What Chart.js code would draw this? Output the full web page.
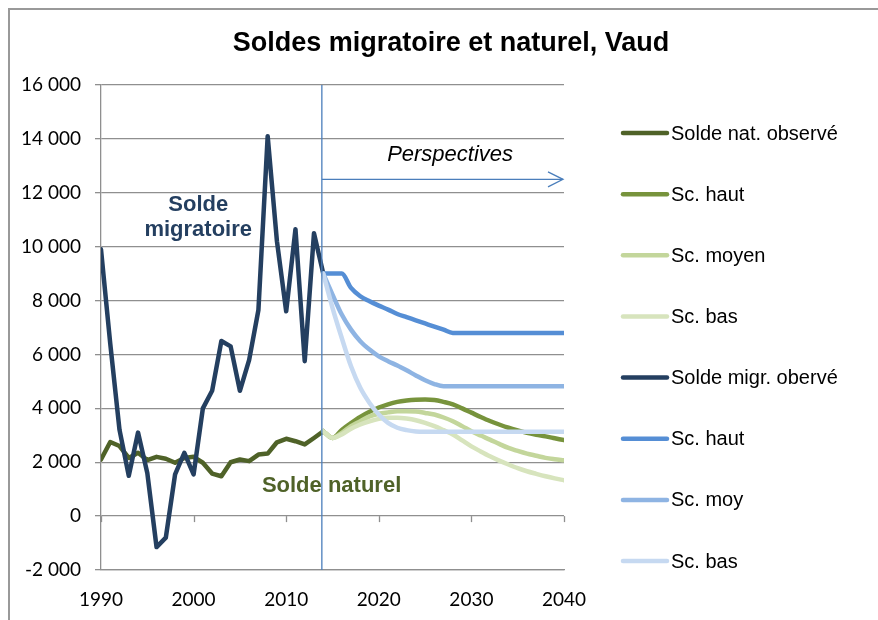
<!DOCTYPE html>
<html><head><meta charset="utf-8">
<script src="https://cdn.jsdelivr.net/npm/chart.js@4/dist/chart.umd.min.js"></script>
<style>
html,body{margin:0;padding:0;background:#fff;}
#wrap{position:relative;width:878px;height:620px;}
canvas{position:absolute;left:0;top:0;}
</style>
</head><body>
<div id="wrap"><canvas id="c" width="878" height="620"></canvas></div>
<script>
// ---- DATA ----
const chartTitle = 'Soldes migratoire et naturel, Vaud';
const observedYears = [1990,1991,1992,1993,1994,1995,1996,1997,1998,1999,2000,2001,2002,2003,2004,2005,2006,2007,2008,2009,2010,2011,2012,2013,2014];
const projectionYears = [2014,2015,2016,2017,2018,2019,2020,2021,2022,2023,2024,2025,2026,2027,2028,2029,2030,2031,2032,2033,2034,2035,2036,2037,2038,2039,2040];

const naturalObserved = [2100,2750,2600,2160,2350,2080,2200,2130,1980,2160,2200,1980,1580,1480,2000,2100,2040,2285,2320,2740,2870,2780,2660,2900,3150];
const naturalHigh   = [3150,2900,3200,3450,3680,3870,4030,4150,4240,4290,4320,4330,4310,4240,4150,4000,3840,3680,3530,3400,3280,3180,3090,3020,2960,2890,2820];
const naturalMedium = [3150,2900,3090,3340,3520,3700,3800,3850,3890,3890,3880,3830,3770,3660,3520,3340,3150,2990,2840,2680,2530,2420,2320,2240,2160,2110,2070];
const naturalLow    = [3150,2900,3030,3240,3400,3520,3610,3650,3650,3620,3560,3460,3340,3190,3030,2810,2590,2400,2220,2060,1915,1780,1665,1570,1480,1400,1330];

const migrationObserved = [9900,6400,3200,1500,3100,1600,-1150,-800,1550,2350,1550,4000,4650,6500,6300,4650,5800,7650,14100,10200,7600,10650,5750,10500,9000];
const migrationHigh   = [9000,9000,9000,8470,8160,7970,7810,7665,7500,7383,7267,7150,7033,6917,6800,6800,6800,6800,6800,6800,6800,6800,6800,6800,6800,6800,6800];
const migrationMedium = [9000,8220,7480,6920,6490,6180,5930,5750,5590,5410,5220,5040,4900,4820,4820,4820,4820,4820,4820,4820,4820,4820,4820,4820,4820,4820,4820];
const migrationLow    = [9000,7730,6610,5560,4760,4200,3770,3460,3280,3190,3140,3130,3130,3130,3130,3130,3130,3130,3130,3130,3130,3130,3130,3130,3130,3130,3130];

const seriesLabels = ['Solde nat. observé','Sc. haut','Sc. moyen','Sc. bas','Solde migr. obervé','Sc. haut','Sc. moy','Sc. bas'];
const xTickValues = [1990,2000,2010,2020,2030,2040];
const yTickValues = [-2000,0,2000,4000,6000,8000,10000,12000,14000,16000];
const annotationTexts = { migration: ['Solde','migratoire'], natural: 'Solde naturel', perspectives: 'Perspectives' };

// ---- helpers ----
const pts = (xs, ys) => xs.map((x, i) => ({x: x, y: ys[i]}));
const fmt = v => (v < 0 ? '-' : '') + Math.abs(v).toString().replace(/\B(?=(\d{3})+(?!\d))/g, ' ');

const colors = ['#4F6228','#77933C','#C3D69B','#D7E4BD','#243F60','#558ED5','#8EB4E3','#C6D9F1'];
const seriesData = [
  pts(observedYears, naturalObserved),
  pts(projectionYears, naturalHigh),
  pts(projectionYears, naturalMedium),
  pts(projectionYears, naturalLow),
  pts(observedYears, migrationObserved),
  pts(projectionYears, migrationHigh),
  pts(projectionYears, migrationMedium),
  pts(projectionYears, migrationLow)
];
const drawOrder = [8,7,6,5,4,3,2,1]; // lower = drawn later (on top)

const datasets = seriesData.map((d, i) => ({
  label: seriesLabels[i],
  data: d,
  borderColor: colors[i],
  backgroundColor: colors[i],
  borderWidth: 4.5,
  pointRadius: 0,
  pointHoverRadius: 0,
  fill: false,
  borderCapStyle: 'round',
  borderJoinStyle: 'round',
  cubicInterpolationMode: (i === 0 || i === 4) ? 'default' : 'monotone',
  tension: 0,
  order: drawOrder[i]
}));

const GRID = '#8f8f8f';
const TXT_FONT = '"Liberation Sans", Arial, sans-serif';

const decor = {
  id: 'decor',
  beforeDraw(chart) {
    const c = chart.ctx;
    c.save();
    c.fillStyle = '#fff';
    c.fillRect(0, 0, chart.width, chart.height);
    c.strokeStyle = '#999';
    c.lineWidth = 2;
    c.beginPath();
    c.moveTo(9, chart.height); c.lineTo(9, 9); c.lineTo(chart.width, 9);
    c.stroke();
    c.restore();
  },
  afterDraw(chart) {
    const c = chart.ctx, xs = chart.scales.x, ys = chart.scales.y, ca = chart.chartArea;
    c.save();
    // x tick marks on the zero line
    c.strokeStyle = GRID; c.lineWidth = 1.3;
    const y0 = ys.getPixelForValue(0);
    xTickValues.forEach(v => {
      const px = Math.round(xs.getPixelForValue(v)) + 0.5;
      c.beginPath(); c.moveTo(px, y0); c.lineTo(px, y0 + 6); c.stroke();
    });
    // title
    c.fillStyle = '#000';
    c.font = 'bold 27px ' + TXT_FONT;
    c.textAlign = 'center'; c.textBaseline = 'middle';
    c.fillText(chartTitle, 451, 44);
    // annotation texts
    c.font = 'bold 22px ' + TXT_FONT;
    c.fillStyle = '#243F60';
    c.fillText(annotationTexts.migration[0], xs.getPixelForValue(2000.5), ys.getPixelForValue(11550));
    c.fillText(annotationTexts.migration[1], xs.getPixelForValue(2000.5), ys.getPixelForValue(10630));
    c.fillStyle = '#4F6228';
    c.fillText(annotationTexts.natural, xs.getPixelForValue(2014.9), ys.getPixelForValue(1135));
    c.fillStyle = '#000';
    c.font = 'italic 22px ' + TXT_FONT;
    c.fillText(annotationTexts.perspectives, xs.getPixelForValue(2027.7), ys.getPixelForValue(13400));
    // forecast start line and arrow
    const vx = xs.getPixelForValue(2013.85);
    c.strokeStyle = '#4A7EBB'; c.lineWidth = 1.3;
    c.beginPath(); c.moveTo(vx, ca.top); c.lineTo(vx, ca.bottom); c.stroke();
    const ay = ys.getPixelForValue(12500), ax2 = ca.right - 1;
    c.beginPath(); c.moveTo(vx, ay); c.lineTo(ax2, ay); c.stroke();
    c.beginPath(); c.moveTo(ax2 - 15, ay - 7.5); c.lineTo(ax2, ay); c.lineTo(ax2 - 15, ay + 7.5); c.stroke();
    // legend
    c.font = '20px ' + TXT_FONT;
    c.textAlign = 'left'; c.textBaseline = 'middle';
    chart.data.datasets.forEach((ds, i) => {
      const ly = 133 + i * 61.15;
      c.strokeStyle = ds.borderColor; c.lineWidth = 4.5; c.lineCap = 'round';
      c.beginPath(); c.moveTo(623, ly); c.lineTo(667, ly); c.stroke();
      c.fillStyle = '#000';
      c.fillText(ds.label, 671, ly + 1);
    });
    c.restore();
  }
};

new Chart(document.getElementById('c'), {
  type: 'line',
  data: { datasets: datasets },
  options: {
    responsive: false,
    animation: false,
    devicePixelRatio: 1,
    layout: { padding: { left: 0, right: 314, top: 85, bottom: 0 } },
    plugins: { legend: { display: false }, title: { display: false }, tooltip: { enabled: false } },
    scales: {
      x: {
        type: 'linear', min: 1990, max: 2040,
        afterBuildTicks: s => { s.ticks = xTickValues.map(v => ({value: v})); },
        afterFit: s => { s.height = 50; },
        grid: { display: false, drawTicks: false },
        border: { display: true, color: GRID, width: 1.3 },
        ticks: { color: '#000', font: { family: 'Lato', size: 19 }, padding: 18, maxRotation: 0, callback: v => String(v) }
      },
      y: {
        type: 'linear', min: -2000, max: 16000,
        afterBuildTicks: s => { s.ticks = yTickValues.map(v => ({value: v})); },
        afterFit: s => { s.width = 101; },
        grid: { color: GRID, lineWidth: 1.3, tickLength: 6, drawTicks: true },
        border: { display: true, color: GRID, width: 1.3 },
        ticks: { color: '#000', font: { family: 'Lato', size: 19 }, padding: 14, callback: v => fmt(v) }
      }
    }
  },
  plugins: [decor]
});
</script>
</body></html>
